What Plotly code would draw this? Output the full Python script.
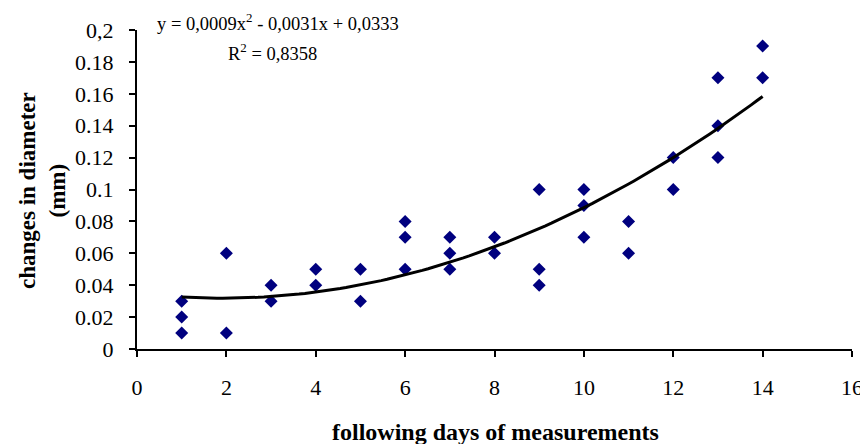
import numpy as np
import plotly.graph_objects as go

days = [1, 1, 1, 2, 2, 3, 3, 4, 4, 5, 5, 6, 6, 6, 7, 7, 7, 8, 8,
        9, 9, 9, 10, 10, 10, 11, 11, 12, 12, 13, 13, 13, 14, 14]
changes = [0.01, 0.02, 0.03, 0.06, 0.01, 0.04, 0.03, 0.05, 0.04, 0.05, 0.03,
           0.08, 0.07, 0.05, 0.07, 0.06, 0.05, 0.07, 0.06,
           0.10, 0.05, 0.04, 0.10, 0.09, 0.07, 0.08, 0.06, 0.12, 0.10,
           0.17, 0.14, 0.12, 0.19, 0.17]

ytick_vals = [0, 0.02, 0.04, 0.06, 0.08, 0.10, 0.12, 0.14, 0.16, 0.18, 0.20]
ytick_text = ["0", "0.02", "0.04", "0.06", "0.08", "0.1", "0.12", "0.14", "0.16", "0.18", "0,2"]
xtick_vals = [0, 2, 4, 6, 8, 10, 12, 14, 16]

coef = np.polyfit(days, changes, 2)
xfit = np.linspace(1, 14, 100)
yfit = np.polyval(coef, xfit)

font = "Liberation Serif"
fig = go.Figure()
fig.add_trace(go.Scatter(x=days, y=changes, mode="markers",
                         marker=dict(symbol="diamond", size=10, color="#00007f"),
                         showlegend=False, cliponaxis=False))
fig.add_trace(go.Scatter(x=xfit, y=yfit, mode="lines",
                         line=dict(color="black", width=3), showlegend=False))

fig.add_annotation(x=0.025, y=1.025, xref="paper", yref="paper", xanchor="left", yanchor="middle",
                   text="y = 0,0009x<sup>2</sup> - 0,0031x + 0,0333", showarrow=False,
                   font=dict(family=font, size=18.5, color="black"))
fig.add_annotation(x=0.19, y=0.931, xref="paper", yref="paper", xanchor="center", yanchor="middle",
                   text="R<sup>2</sup> = 0,8358", showarrow=False,
                   font=dict(family=font, size=18.5, color="black"))
fig.add_annotation(x=0.502, y=-0.26, xref="paper", yref="paper", xanchor="center", yanchor="middle",
                   text="<b>following days of measurements</b>", showarrow=False,
                   font=dict(family=font, size=24, color="black"))
fig.add_annotation(x=-0.133, y=0.498, xref="paper", yref="paper", xanchor="center", yanchor="middle",
                   text="<b>changes in diameter<br>(mm)</b>", showarrow=False, textangle=-90,
                   font=dict(family=font, size=23, color="black"))

fig.update_layout(
    width=860, height=436,
    margin=dict(l=129, r=16, t=22, b=95, autoexpand=False),
    plot_bgcolor="white", paper_bgcolor="white",
    font=dict(family=font, size=22, color="black"),
    xaxis=dict(range=[0, 16], tickvals=xtick_vals, showgrid=False, zeroline=False,
               showline=True, linecolor="black", linewidth=2, automargin=False,
               ticks="outside", ticklen=6, tickwidth=1.5, tickcolor="black",
               ticklabelstandoff=12),
    yaxis=dict(range=[0, 0.2], tickvals=ytick_vals, ticktext=ytick_text, showgrid=False,
               zeroline=False, showline=True, linecolor="black", linewidth=2, automargin=False,
               ticks="outside", ticklen=6, tickwidth=1.5, tickcolor="black",
               ticklabelstandoff=11),
)

fig.write_html("out.html")
